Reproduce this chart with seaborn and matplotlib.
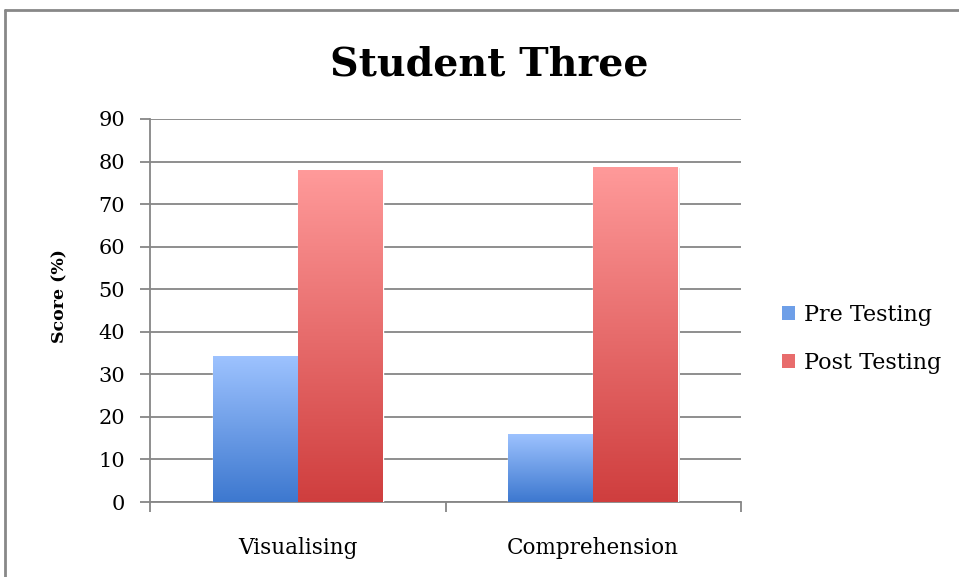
import numpy as np
import pandas as pd
import matplotlib
matplotlib.use("Agg")
import matplotlib.pyplot as plt
import seaborn as sns
from matplotlib.colors import LinearSegmentedColormap
from matplotlib.patches import Patch
from matplotlib.lines import Line2D

# data
categories = ["Visualising", "Comprehension"]
series = ["Pre Testing", "Post Testing"]
pre_scores = [34.4, 16.0]
post_scores = [78.0, 78.8]
y_ticks = [0, 10, 20, 30, 40, 50, 60, 70, 80, 90]

df = pd.DataFrame({
    "Skill": categories * 2,
    "Test": [series[0]] * len(categories) + [series[1]] * len(categories),
    "Score": pre_scores + post_scores,
})

# top / bottom colours of the gradient fills
grad_colors = {
    "Pre Testing": ("#9ec3ff", "#3d78cf"),
    "Post Testing": ("#ff9a9a", "#cf3e3e"),
}
mid_colors = {"Pre Testing": "#6e9fe8", "Post Testing": "#e86c6c"}

sns.set_style("white")
plt.rcParams["font.family"] = ["DejaVu Serif"]
plt.rcParams["text.color"] = "black"
plt.rcParams["xtick.color"] = "black"
plt.rcParams["ytick.color"] = "black"
plt.rcParams["axes.labelcolor"] = "black"

fig = plt.figure(figsize=(9.59, 5.77), dpi=100)
ax = fig.add_axes([150 / 959, 1 - 502 / 577, 591 / 959, 383 / 577])

sns.barplot(data=df, x="Skill", y="Score", hue="Test", order=categories,
            hue_order=series, palette=mid_colors, width=0.575, gap=0,
            ax=ax, legend=False, zorder=3)

# replace flat fills with vertical gradients
grad = np.linspace(1, 0, 256).reshape(-1, 1)
bars = [p for p in ax.patches if p.get_height() > 0]
for i, bar in enumerate(bars):
    name = series[i // len(categories)]
    top, bottom = grad_colors[name]
    cmap = LinearSegmentedColormap.from_list(name, [bottom, top])
    x0, w, h = bar.get_x(), bar.get_width(), bar.get_height()
    # faint shadow on the right
    ax.add_patch(plt.Rectangle((x0 + 0.006, 0), w, h - 0.3, color="#e4e4e4",
                               zorder=2, lw=0))
    img = ax.imshow(grad, extent=[x0, x0 + w, 0, h], aspect="auto",
                    cmap=cmap, zorder=4, origin="upper")
    img.set_clip_path(bar)

ax.set_xlim(-0.5, 1.5)
ax.set_ylim(0, 90)
ax.set_yticks(y_ticks)
ax.yaxis.grid(True, color="#868686", lw=1.3, zorder=0)
ax.set_axisbelow(True)

for side in ["top", "right"]:
    ax.spines[side].set_visible(False)
for side in ["left", "bottom"]:
    ax.spines[side].set_color("#868686")
    ax.spines[side].set_linewidth(1.3)

ax.tick_params(axis="y", left=True, length=7, width=1.3, color="#868686",
               labelsize=15, pad=11)
ax.set_xticks([-0.5, 0.5, 1.5], minor=True)
ax.tick_params(axis="x", which="minor", bottom=True, length=7, width=1.3,
               color="#868686")
ax.tick_params(axis="x", which="major", bottom=False, labelsize=15.5, pad=22)

ax.set_xlabel("")
ax.set_ylabel("")
fig.text(60 / 959, 1 - 296 / 577, "Score (%)", rotation=90, fontsize=12.5,
         fontweight="bold", ha="center", va="center")
fig.text(489 / 959, 1 - 75 / 577, "Student Three", fontsize=28.5,
         fontweight="bold", ha="center", va="baseline")

handles = [Patch(facecolor=mid_colors[s], edgecolor="none") for s in series]
fig.legend(handles, series, loc="center left",
           bbox_to_anchor=(762 / 959, 1 - 339 / 577), frameon=False,
           fontsize=16, handlelength=0.6, handleheight=0.6,
           handletextpad=0.4, labelspacing=1.15)

# outer chart frame (top and left edges visible)
fig.add_artist(Line2D([5 / 959, 1], [1 - 10 / 577, 1 - 10 / 577],
                      transform=fig.transFigure, color="#888888", lw=2))
fig.add_artist(Line2D([5 / 959, 5 / 959], [0, 1 - 10 / 577],
                      transform=fig.transFigure, color="#888888", lw=2))

fig.savefig("out.png", dpi=100)
